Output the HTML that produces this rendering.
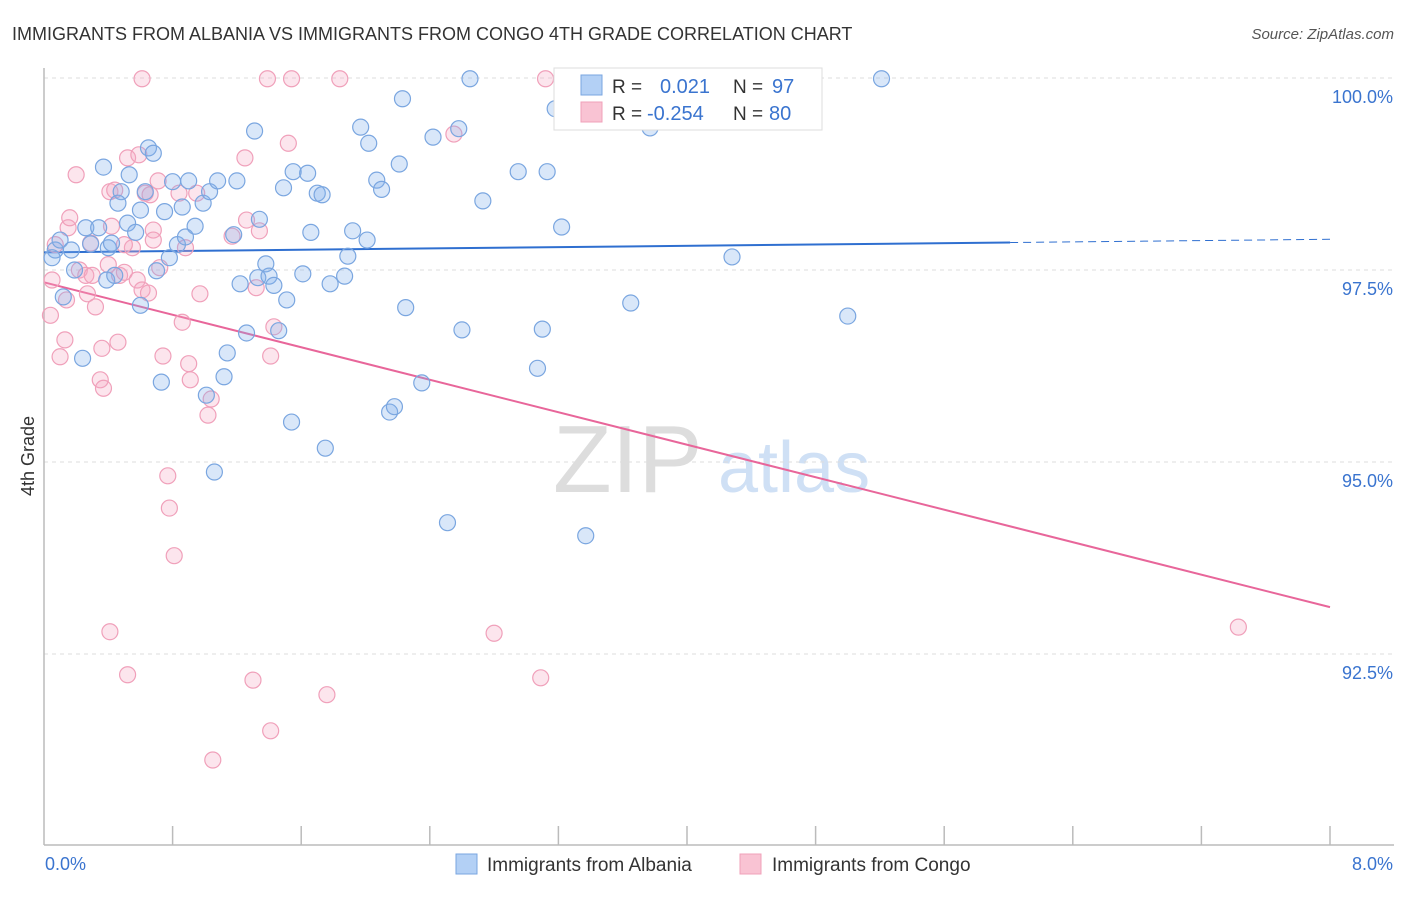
<!DOCTYPE html>
<html><head><meta charset="utf-8"><style>
body{margin:0;background:#fff;font-family:"Liberation Sans",sans-serif}
svg text{font-family:"Liberation Sans",sans-serif}
</style></head><body>
<svg id="chart" width="1406" height="892" xmlns="http://www.w3.org/2000/svg">
<text x="12" y="40" font-size="18" fill="#333">IMMIGRANTS FROM ALBANIA VS IMMIGRANTS FROM CONGO 4TH GRADE CORRELATION CHART</text>
<text x="1394" y="39" font-size="15" fill="#555" font-style="italic" text-anchor="end">Source: ZipAtlas.com</text>
<text transform="translate(34,456) rotate(-90)" font-size="18" fill="#333" text-anchor="middle">4th Grade</text>
<g><text x="553" y="492" font-size="96" font-family="Liberation Serif,serif" fill="#ddd">ZIP</text><text x="718" y="492" font-size="72" fill="#cfe0f5">atlas</text></g>
<g id="grid"></g><g id="axes"></g><g id="trends"></g><g id="points"></g>
<g>
<rect x="554" y="68" width="268" height="62" fill="#fff" stroke="#ddd"/>
<rect x="581" y="75" width="21" height="20" fill="#b3d0f5" stroke="#7aa6e0"/>
<rect x="581" y="102" width="21" height="20" fill="#f9c3d3" stroke="#f0a0ba"/>
<text x="612" y="93" font-size="19" fill="#333">R =</text><text x="660" y="93" font-size="20" fill="#3a74cf">0.021</text>
<text x="733" y="93" font-size="19" fill="#333">N =</text><text x="772" y="93" font-size="20" fill="#3a74cf">97</text>
<text x="612" y="120" font-size="19" fill="#333">R =</text><text x="647" y="120" font-size="20" fill="#3a74cf">-0.254</text>
<text x="733" y="120" font-size="19" fill="#333">N =</text><text x="769" y="120" font-size="20" fill="#3a74cf">80</text>
</g>
<g>
<rect x="456" y="854" width="21" height="20" fill="#b3d0f5" stroke="#7aa6e0"/>
<text x="487" y="871" font-size="19" fill="#333">Immigrants from Albania</text>
<rect x="740" y="854" width="21" height="20" fill="#f9c3d3" stroke="#f0a0ba"/>
<text x="772" y="871" font-size="19" fill="#333">Immigrants from Congo</text>
</g>
</svg>
<script>
const blueX=[0.07,0.10,0.05,0.17,0.26,0.29,0.34,0.37,0.40,0.42,0.39,0.48,0.46,0.53,0.52,0.57,0.63,0.65,0.68,0.60,0.70,0.73,0.75,0.80,0.78,0.83,0.86,0.90,0.88,0.94,0.99,1.03,1.08,1.01,1.06,1.12,1.14,1.18,1.20,1.22,1.26,1.31,1.33,1.34,1.38,1.40,1.43,1.46,1.49,1.51,1.54,1.55,1.61,1.64,1.66,1.70,1.73,1.75,1.78,1.87,1.89,1.92,1.97,2.01,2.02,2.07,2.10,2.15,2.18,2.21,2.23,2.25,2.35,2.42,2.51,2.58,2.60,2.65,2.73,2.95,3.07,3.10,3.13,3.18,3.22,3.37,3.65,3.77,4.28,5.00,5.21,0.24,0.12,0.19,0.60,0.44];
const blueY=[97.76,97.89,97.66,97.76,98.05,97.84,98.05,98.84,97.79,97.85,97.37,98.52,98.37,98.74,98.11,97.99,98.52,99.09,99.02,97.04,97.49,96.04,98.26,98.65,97.66,97.83,98.32,98.66,97.93,98.07,98.37,98.52,98.66,95.87,94.87,96.11,96.42,97.96,98.66,97.32,96.68,99.31,97.40,98.16,97.58,97.42,97.30,96.71,98.57,97.11,95.52,98.78,97.45,98.76,97.99,98.50,98.48,95.18,97.32,97.42,97.68,98.01,99.36,97.89,99.15,98.67,98.55,95.65,95.72,98.88,99.73,97.01,96.03,99.23,94.21,99.34,96.72,99.99,98.40,98.78,96.22,96.73,98.78,99.60,98.06,94.04,97.07,99.35,97.67,96.90,99.99,96.35,97.15,97.50,98.28,97.43];
const pinkX=[0.04,0.10,0.13,0.15,0.16,0.20,0.22,0.26,0.27,0.30,0.32,0.35,0.36,0.37,0.40,0.41,0.42,0.44,0.46,0.47,0.50,0.52,0.55,0.58,0.59,0.61,0.63,0.65,0.66,0.68,0.68,0.71,0.72,0.74,0.77,0.78,0.81,0.84,0.86,0.88,0.90,0.91,0.95,0.97,1.02,1.04,1.05,1.17,1.25,1.26,1.30,1.32,1.34,1.39,1.41,1.41,1.43,1.52,1.54,1.76,1.84,2.55,2.80,3.09,3.12,7.43,0.41,0.52,0.61,0.50,0.29,0.14,0.07,0.05];
const pinkY=[96.91,96.37,96.59,98.05,98.18,98.74,97.50,97.43,97.19,97.43,97.02,96.07,96.48,95.96,97.57,98.52,98.07,98.54,96.56,97.43,97.47,98.96,97.79,97.37,99.00,97.24,98.50,97.20,98.48,98.02,97.89,98.66,97.53,96.38,94.82,94.40,93.78,98.50,96.82,97.79,96.28,96.07,98.50,97.19,95.61,95.82,91.12,97.94,98.96,98.15,92.16,97.27,98.01,99.99,91.50,96.38,96.76,99.15,99.99,91.97,99.99,99.27,92.77,92.19,99.99,92.85,92.79,92.23,99.99,97.83,97.85,97.11,97.83,97.37];
const blueTrend=[97.73,97.90];
const pinkTrend=[97.34,93.11];
const yTicks=[100,97.5,95,92.5];
const yTickLabels=["100.0%","97.5%","95.0%","92.5%"];
const xTickLabels=["0.0%","8.0%"];

const NS="http://www.w3.org/2000/svg";
const X0=44,X1=1330,YT=78,PXPER=76.8;
const sx=v=>X0+(v/8)*(X1-X0);
const sy=v=>YT+(100-v)*PXPER;
function mk(tag,attrs,parent){const e=document.createElementNS(NS,tag);for(const k in attrs)e.setAttribute(k,attrs[k]);parent.appendChild(e);return e;}
const grid=document.getElementById('grid'),axes=document.getElementById('axes'),trends=document.getElementById('trends'),pts=document.getElementById('points');
yTicks.forEach((t,i)=>{
 const l=mk('line',{x1:X0,x2:1394,y1:sy(t),y2:sy(t),stroke:'#ddd','stroke-dasharray':'4,4'},grid);
 
 
 const tx=mk('text',{x:1393,y:sy(t)+25,'font-size':18,fill:'#3a74cf','text-anchor':'end'},grid);
 tx.textContent=yTickLabels[i];
 
 
});
const ax=mk('line',{x1:X0,x2:1394,y1:845,y2:845,stroke:'#bbb','stroke-width':1.5},axes);


const ay=mk('line',{x1:X0,x2:X0,y1:68,y2:845,stroke:'#bbb','stroke-width':1.5},axes);


for(let i=1;i<=10;i++){const v=i*0.8;const t=mk('line',{x1:sx(v),x2:sx(v),y1:826,y2:845,stroke:'#bbb','stroke-width':1.5},axes);
 
 }
const xl0=mk('text',{x:45,y:870,'font-size':18,fill:'#3a74cf'},axes);xl0.textContent=xTickLabels[0];


const xl1=mk('text',{x:1393,y:870,'font-size':18,fill:'#3a74cf','text-anchor':'end'},axes);xl1.textContent=xTickLabels[1];


function drawPts(xs,ys,fill,stroke,name){xs.forEach((x,i)=>{const c=mk('circle',{cx:sx(x),cy:sy(ys[i]),r:8,fill:fill,stroke:stroke,'stroke-width':1.2},pts);
 
 });}
drawPts(pinkX,pinkY,'rgba(246,170,195,0.3)','#f0a0ba','congo-point');
drawPts(blueX,blueY,'rgba(130,175,235,0.3)','#7aa6e0','albania-point');
const bAt=v=>blueTrend[0]+(blueTrend[1]-blueTrend[0])*v/8;
const b1=mk('line',{x1:sx(0),y1:sy(bAt(0)),x2:sx(6.01),y2:sy(bAt(6.01)),stroke:'#2f6fd0','stroke-width':2},trends);


const b2=mk('line',{x1:sx(6.01),y1:sy(bAt(6.01)),x2:sx(8),y2:sy(bAt(8)),stroke:'#2f6fd0','stroke-width':1,'stroke-dasharray':'8,5'},trends);


const p1=mk('line',{x1:sx(0),y1:sy(pinkTrend[0]),x2:sx(8),y2:sy(pinkTrend[1]),stroke:'#e8669a','stroke-width':2},trends);


</script>
</body></html>
